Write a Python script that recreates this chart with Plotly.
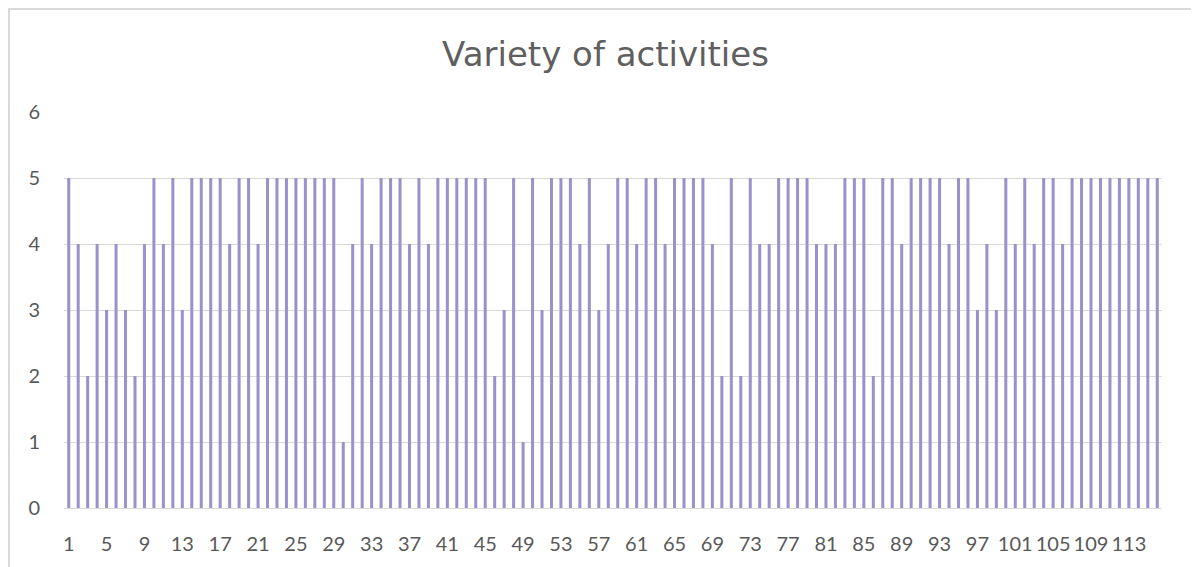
import plotly.graph_objects as go

categories = list(range(1, 117))
values = [
    5, 4, 2, 4, 3, 4, 3, 2, 4, 5,
    4, 5, 3, 5, 5, 5, 5, 4, 5, 5,
    4, 5, 5, 5, 5, 5, 5, 5, 5, 1,
    4, 5, 4, 5, 5, 5, 4, 5, 4, 5,
    5, 5, 5, 5, 5, 2, 3, 5, 1, 5,
    3, 5, 5, 5, 4, 5, 3, 4, 5, 5,
    4, 5, 5, 4, 5, 5, 5, 5, 4, 2,
    5, 2, 5, 4, 4, 5, 5, 5, 5, 4,
    4, 4, 5, 5, 5, 2, 5, 5, 4, 5,
    5, 5, 5, 4, 5, 5, 3, 4, 3, 5,
    4, 5, 4, 5, 5, 4, 5, 5, 5, 5,
    5, 5, 5, 5, 5, 5,
]
tick_vals = list(range(1, 117, 4))
tick_text = [str(v) for v in tick_vals]
title_text = "Variety of activities"

W, H = 1199, 567
ML, MR, MT, MB = 56, 45, 104, 67
PW, PH = W - ML - MR, H - MT - MB

fig = go.Figure(
    go.Bar(x=categories, y=values, width=0.32,
           marker=dict(color="#9c91cb", line=dict(width=0)))
)

fig.update_layout(
    width=W, height=H,
    margin=dict(l=ML, r=MR, t=MT, b=MB),
    paper_bgcolor="white", plot_bgcolor="white",
    showlegend=False,
    title=dict(text=title_text, x=597.5 / W, xref="container", xanchor="center",
               y=1 - 46 / H, yref="container", yanchor="middle",
               font=dict(family="DejaVu Sans", size=34, color="#5f5f5f")),
    font=dict(family="Lato", color="#595959"),
    shapes=[dict(type="rect", xref="paper", yref="paper",
                 x0=(1 - ML) / PW, x1=1.3, y0=-0.5, y1=1 + (MT - 1) / PH,
                 line=dict(color="#d9d9d9", width=2), fillcolor="rgba(0,0,0,0)",
                 layer="below")],
)

fig.update_xaxes(range=[0.5, 116.5], tickmode="array", tickvals=tick_vals,
                 ticktext=tick_text, showgrid=False, zeroline=False,
                 showline=False, ticks="outside", ticklen=18,
                 tickcolor="rgba(0,0,0,0)",
                 tickfont=dict(family="Lato", size=20, color="#595959"))
fig.update_yaxes(range=[0, 6], dtick=1, showgrid=True, gridcolor="#d9d9d9",
                 gridwidth=1, zeroline=True, zerolinecolor="#d9d9d9",
                 zerolinewidth=1, showline=False, ticks="outside", ticklen=19,
                 tickcolor="rgba(0,0,0,0)",
                 tickfont=dict(family="Lato", size=20, color="#595959"))

fig.write_html("out.html")
